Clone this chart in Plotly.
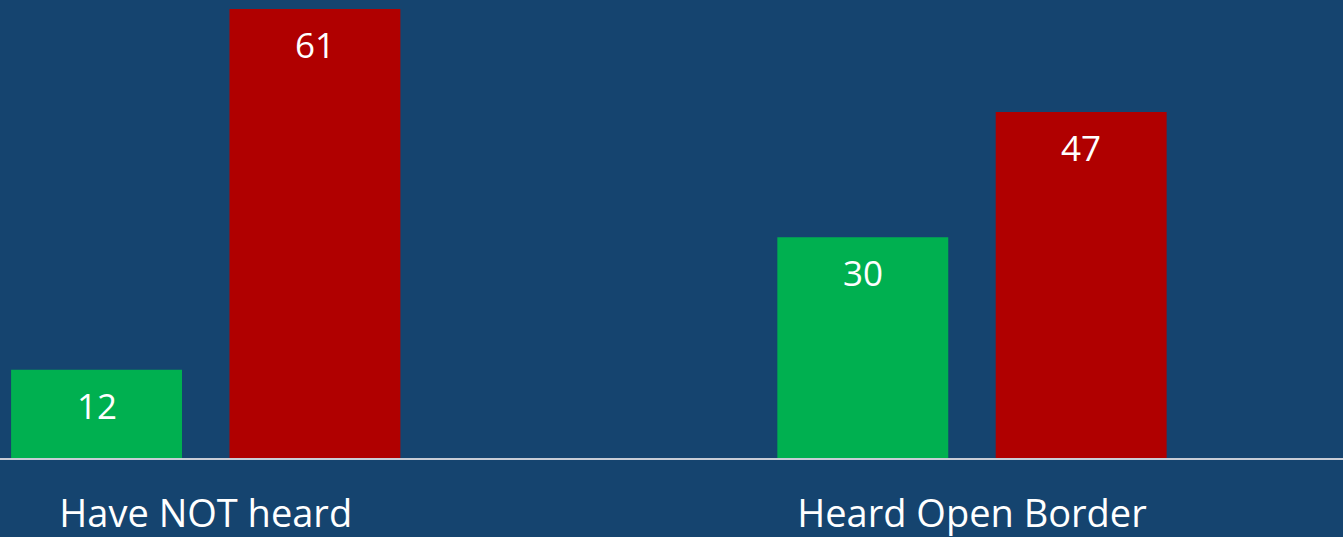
import plotly.graph_objects as go

categories = ["Have NOT heard", "Heard Open Border"]
green_values = [12, 30]
red_values = [61, 47]

BG = "#15446F"
GREEN = "#00B050"
RED = "#B00000"
FONT = "Open Sans"
BARGAP = 0.43
BARGROUPGAP = 0.2174

series = [green_values, red_values]
colors = [GREEN, RED]

fig = go.Figure()
for vals, col in zip(series, colors):
    fig.add_trace(go.Bar(
        x=categories, y=vals, marker=dict(color=col, line=dict(width=0)),
        hoverinfo="skip",
    ))

# value labels: placed at each bar's centre (group offset derived from bargap)
n = len(series)
slot = (1 - BARGAP) / n
for ti, vals in enumerate(series):
    off = (2 * ti + 1 - n) * slot / 2
    for ci, v in enumerate(vals):
        fig.add_annotation(
            x=ci + off, y=v, xref="x", yref="y", text=str(v),
            showarrow=False, yanchor="top", xanchor="center", yshift=-10,
            font=dict(color="white", size=35, family=FONT),
        )

fig.update_layout(
    width=1343, height=537,
    paper_bgcolor=BG, plot_bgcolor=BG,
    margin=dict(l=0, r=0, t=0, b=79, pad=0, autoexpand=False),
    barmode="group", bargap=BARGAP, bargroupgap=BARGROUPGAP,
    showlegend=False,
    font=dict(family=FONT, color="white"),
    xaxis=dict(
        type="category", range=[-0.2685, 1.4842],
        showgrid=False, zeroline=False, automargin=False,
        showline=True, linecolor="#C8CDD6", linewidth=1.5,
        ticks="", tickfont=dict(size=38, color="white", family=FONT),
        ticklabelstandoff=22,
        fixedrange=True,
    ),
    yaxis=dict(
        range=[0, 62.22], visible=False, showgrid=False, zeroline=False,
        fixedrange=True, automargin=False,
    ),
)

fig.write_html(
    "out.html",
    config={"displayModeBar": False},
    post_script="document.body.style.margin='0';document.body.style.overflow='hidden';",
)
